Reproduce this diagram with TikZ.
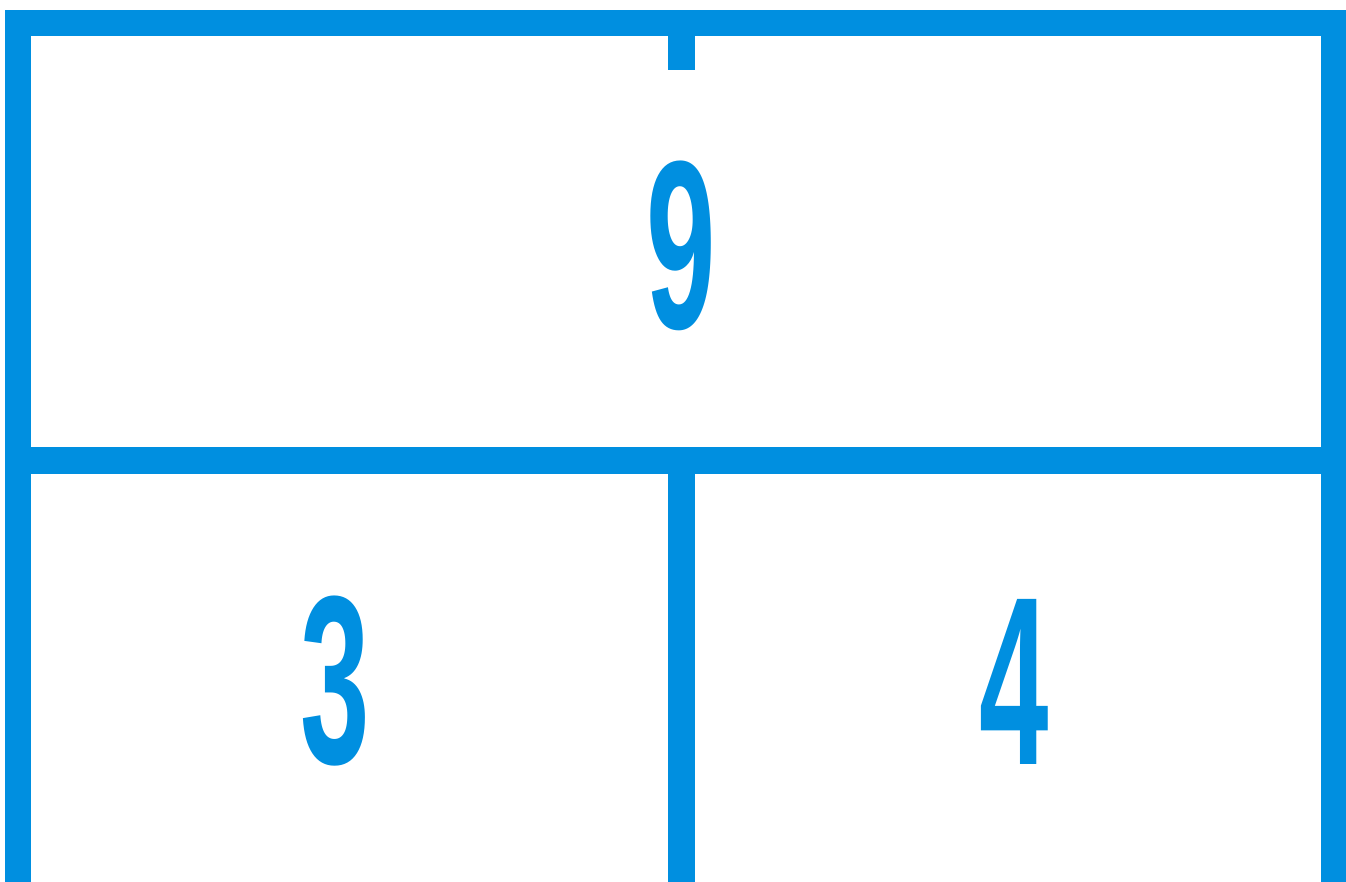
\documentclass[tikz,border=0pt]{standalone}
\usepackage{fontspec}
\setmainfont{Liberation Sans}
\definecolor{gridblue}{RGB}{0,143,224}
\begin{document}
\begin{tikzpicture}[x=1pt,y=-1pt,
  bar/.style={fill=gridblue},
  digit/.style={text=gridblue,inner sep=0pt,anchor=center,
    font=\fontsize{240}{240}\selectfont\bfseries}]
\useasboundingbox (0,0) rectangle (1346,882);
\clip (0,0) rectangle (1346,882);
% frame bars
\fill[bar] (5,10) rectangle (1350,36);   % top
\fill[bar] (5,10) rectangle (31,890);    % left
\fill[bar] (1321,10) rectangle (1350,890); % right
\fill[bar] (5,447) rectangle (1350,474); % middle horizontal
\fill[bar] (668,36) rectangle (695,70);  % top stub
\fill[bar] (668,447) rectangle (695,890); % middle vertical
% numbers
\node[digit] (n9) at (681,245.5) {\scalebox{0.52}[1]{9}};
\node[digit] (n3) at (335,681.5) {\scalebox{0.52}[1]{3}};
\node[digit] (n4) at (1014,682) {\scalebox{0.52}[1]{4}};
\end{tikzpicture}
\end{document}
